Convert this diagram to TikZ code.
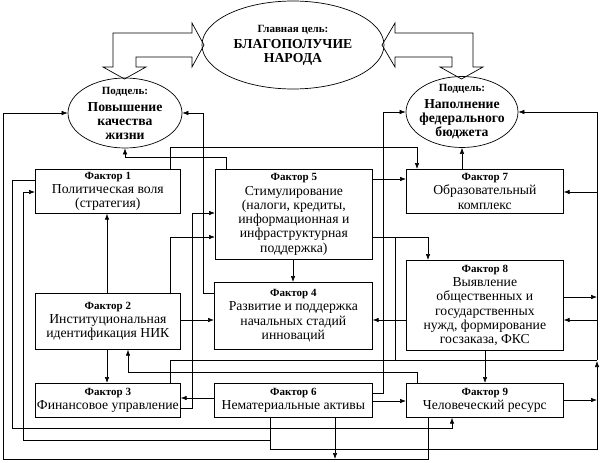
\documentclass[tikz,border=0pt]{standalone}
\usepackage{fontspec}
\setmainfont{Liberation Serif}
\usetikzlibrary{arrows.meta,shapes.geometric}
\tikzset{
 fbox/.style={draw, line width=0.7pt, anchor=north west, align=center, inner sep=1pt, font=\fontsize{13.7}{14.3}\selectfont},
 goalshape/.style={draw, ellipse, line width=0.7pt, inner sep=0pt},
 goaltext/.style={align=center, inner sep=0pt, font=\fontsize{13.7}{14}\selectfont\bfseries},
 arr/.style={line width=0.6pt, -{Latex[length=6pt,width=4.5pt]}},
 ln/.style={line width=0.6pt},
 barrow/.style={draw, line width=0.7pt, fill=white, line join=miter}
}
\newcommand{\hdr}[1]{{\fontsize{11}{14}\selectfont\bfseries #1}}
\begin{document}
\begin{tikzpicture}[x=1pt,y=-1pt]
\useasboundingbox (0,0) rectangle (600,463);

% block arrows
\draw[barrow] (124.5,79) -- (146,67) -- (136,67) -- (136,57) -- (192,57) -- (192,67) -- (204,45) -- (192,23) -- (192,33) -- (113,33) -- (113,67) -- (103,67) -- cycle;
\draw[barrow] (461.5,79) -- (440,67) -- (452,67) -- (452,57) -- (395,57) -- (395,67) -- (382,45) -- (395,23) -- (395,33) -- (473,33) -- (473,67) -- (483,67) -- cycle;

% goals
\node[goalshape, minimum width=182pt, minimum height=88pt] (g) at (293,45) {};
\node[goaltext] (gt) at (g.center) {\hdr{Главная цель:}\\[2pt]БЛАГОПОЛУЧИЕ\\НАРОДА};
\node[goalshape, minimum width=114pt, minimum height=70pt] (s1) at (125,113) {};
\node[goaltext] (s1t) at (s1.center) {\hdr{Подцель:}\\[3pt]Повышение\\качества\\жизни};
\node[goalshape, minimum width=112pt, minimum height=71pt] (s2) at (462,112) {};
\node[goaltext] (s2t) at (s2.center) {\hdr{Подцель:}\\[3pt]Наполнение\\федерального\\бюджета};

% factor boxes
\node[fbox, minimum width=145pt, minimum height=44pt] (f1) at (35,169) {\hdr{Фактор 1}\\Политическая воля\\(стратегия)};
\node[fbox, minimum width=157pt, minimum height=90pt] (f5) at (215,169) {\hdr{Фактор 5}\\Стимулирование\\(налоги, кредиты,\\информационная и\\инфраструктурная\\поддержка)};
\node[fbox, minimum width=157pt, minimum height=44pt] (f7) at (406,169) {\hdr{Фактор 7}\\Образовательный\\комплекс};
\node[fbox, minimum width=157pt, minimum height=90pt] (f8) at (406,260) {\hdr{Фактор 8}\\Выявление\\общественных и\\государственных\\нужд, формирование\\госзаказа, ФКС};
\node[fbox, minimum width=158pt, minimum height=67pt] (f4) at (214,282) {\hdr{Фактор 4}\\Развитие и поддержка\\начальных стадий\\инноваций};
\node[fbox, minimum width=145pt, minimum height=56pt] (f2) at (35,293) {\hdr{Фактор 2}\\Институциональная\\идентификация НИК};
\node[fbox, minimum width=145pt, minimum height=34pt] (f3) at (35,383) {\hdr{Фактор 3}\\Финансовое управление};
\node[fbox, minimum width=158pt, minimum height=34pt] (f6) at (214,383) {\hdr{Фактор 6}\\Нематериальные активы};
\node[fbox, minimum width=157pt, minimum height=34pt] (f9) at (406,383) {\hdr{Фактор 9}\\Человеческий ресурс};

% connectors
\draw[arr] (f2.north -| 107,0) -- (f1.south -| 107,0);
\draw[arr] (f2.south -| 107,0) -- (f3.north -| 107,0);
\draw[arr] (f2.east |- 0,320) -- (f4.west |- 0,320);
\draw[arr] (f2.north -| 170,0) -- (170,237) -- (f5.west |- 0,237);
\draw[arr] (f3.east |- 0,408) -- (192,408) -- (192,213) -- (f5.west |- 0,213);
\draw[arr] (f6.west |- 0,398) -- (f3.east |- 0,398);
\draw[arr] (f6.east |- 0,401) -- (f9.west |- 0,401);
\draw[arr] (f6.east |- 0,393) -- (383,393) -- (383,0 |- s2.west) -- (s2.west);
\draw[arr] (f4.west |- 0,293) -- (203,293) -- (203,0 |- s1.east) -- (s1.east);
\draw[arr] (f5.north -| 226,0) -- (226,157) -- (s1.south |- 0,157) -- (s1.south);
\draw[arr] (f1.north -| 170,0) -- (170,147) -- (417,147) -- (f7.north -| 417,0);
\draw[arr] (f5.east |- 0,179) -- (f7.west |- 0,179);
\draw[arr] (s2.south |- f7.north) -- (s2.south);
\draw[arr] (f5.east |- 0,237) -- (428,237) -- (f8.north -| 428,0);
\draw[ln] (395,237) -- (395,360);
\draw[arr] (f5.south -| 293,0) -- (f4.north -| 293,0);
\draw[arr] (f8.west |- 0,320) -- (f4.east |- 0,320);
\draw[arr] (f8.south -| 485,0) -- (f9.north -| 485,0);
\draw[arr] (f8.east |- 0,297) -- (597,297);
\draw[arr] (597,320) -- (f8.east |- 0,320);
\draw[arr] (597,192) -- (f7.east |- 0,192);
\draw[arr] (597,360) -- (597,0 |- s2.east) -- (s2.east);
\draw[arr] (f9.east |- 0,400) -- (597,400);
\draw[arr] (f6.south -| 270,0) -- (270,449) -- (597,449) -- (597,361);
\draw[arr] (270,440) -- (23,440) -- (23,192) -- (f1.west |- 0,192);
\draw[ln] (f3.north -| 170,0) -- (170,360) -- (597,360);
\draw[arr] (f1.west |- 0,180) -- (12,180) -- (12,428) -- (452,428) -- (f9.south -| 452,0);
\draw[arr] (f9.north -| 417,0) -- (417,372) -- (128,372) -- (f2.south -| 128,0);
\draw[arr] (f9.south -| 428,0) -- (428,459) -- (3,459) -- (3,0 |- s1.west) -- (s1.west);
\draw[arr] (f6.south -| 335,0) -- (335,459);
\end{tikzpicture}
\end{document}
